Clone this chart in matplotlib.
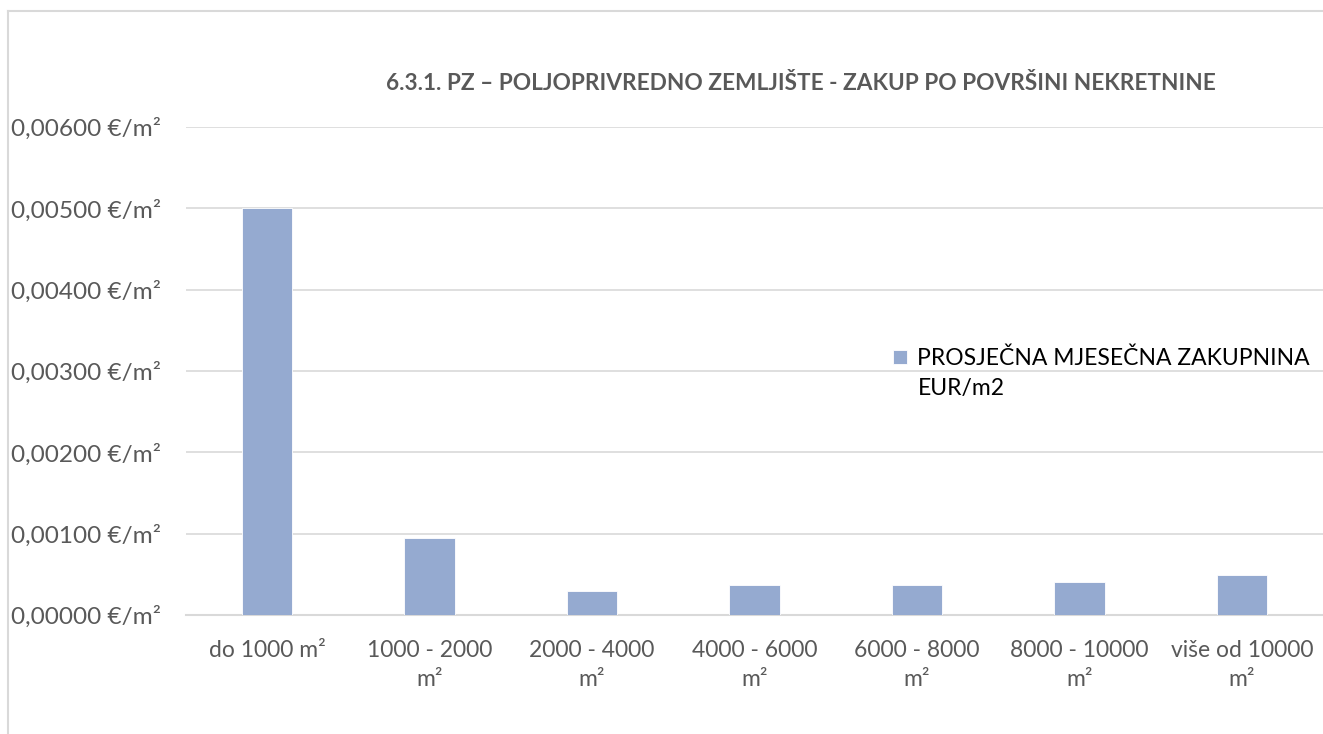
"""Poljoprivredno zemljište - prosječna mjesečna zakupnina po površini nekretnine."""
import numpy as np
import matplotlib.pyplot as plt
from matplotlib.lines import Line2D
from matplotlib.ticker import FuncFormatter

categories = ["do 1000 m²", "1000 - 2000\nm²", "2000 - 4000\nm²", "4000 - 6000\nm²",
              "6000 - 8000\nm²", "8000 - 10000\nm²", "više od 10000\nm²"]
rent_eur_m2 = [0.00500, 0.00095, 0.00030, 0.00037, 0.00037, 0.00041, 0.00049]
y_ticks = [0.0, 0.001, 0.002, 0.003, 0.004, 0.005, 0.006]

title = "6.3.1. PZ – POLJOPRIVREDNO ZEMLJIŠTE - ZAKUP PO POVRŠINI NEKRETNINE"
series_name = "PROSJEČNA MJESEČNA ZAKUPNINA\nEUR/m2"

bar_color = "#95aad0"
grid_color = "#d9d9d9"
text_color = "#595959"

plt.rcParams["font.family"] = ["Lato", "DejaVu Sans"]

fig = plt.figure(figsize=(13.23, 7.34), dpi=100)
ax = fig.add_axes([0.1406, 0.1621, 0.8594, 0.6649])

x = np.arange(len(categories))
ax.bar(x, rent_eur_m2, width=0.31, color=bar_color, edgecolor="white",
       linewidth=0.6, label=series_name, zorder=3)

ax.set_xlim(-0.5, len(categories) - 0.5)
ax.set_ylim(0, 0.006)
ax.set_yticks(y_ticks)
ax.yaxis.set_major_formatter(FuncFormatter(lambda v, _: f"{v:.5f}".replace(".", ",") + " €/m²"))
ax.set_xticks(x)
ax.set_xticklabels(categories, fontsize=16.5, color=text_color, linespacing=1.45)
ax.tick_params(axis="y", labelsize=17.6, labelcolor=text_color, length=0, pad=18)
ax.tick_params(axis="x", length=0, pad=18)

ax.grid(axis="y", color=grid_color, linewidth=1.2, zorder=0)
for side in ("top", "right", "left"):
    ax.spines[side].set_visible(False)
ax.spines["bottom"].set_color(grid_color)
ax.spines["bottom"].set_linewidth(1.5)

fig.text(0.605, 0.886, title, ha="center", va="center", fontsize=16.3,
         fontweight="bold", color=text_color)

leg = ax.legend(loc="upper left", bbox_to_anchor=(0.604, 0.59), frameon=False,
                fontsize=16.5, handlelength=0.6, handleheight=0.6, handletextpad=0.45)
for t in leg.get_texts():
    t.set_linespacing(1.5)
# Excel puts the legend key level with the first line of a wrapped label
key = leg.legend_handles[0]
key.set_y(key.get_y() + 12)

# outer chart frame (left and top edges visible in the crop)
fig.add_artist(Line2D([0.006, 0.006], [0.0, 0.985], color=grid_color, linewidth=1.5))
fig.add_artist(Line2D([0.006, 1.0], [0.985, 0.985], color=grid_color, linewidth=1.5))

fig.savefig("out.png", dpi=100)
